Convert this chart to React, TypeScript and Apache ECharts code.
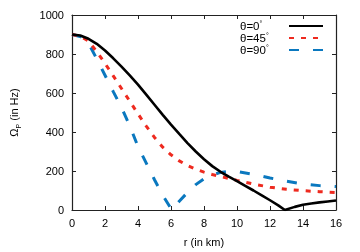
import React, { useEffect, useRef } from "react";
import * as echarts from "echarts";

const seriesNames = ["θ=0°", "θ=45°", "θ=90°"];
const xTicks = [0, 2, 4, 6, 8, 10, 12, 14, 16];
const yTicks = [0, 200, 400, 600, 800, 1000];

const rBlack = [0, 0.5, 1, 1.5, 2, 2.5, 3, 3.5, 4, 4.5, 5, 5.5, 6, 6.5, 7, 7.5, 8, 8.5, 9, 9.5, 10, 10.5, 11, 11.5, 12, 12.5, 12.9, 13.5, 14, 14.5, 15, 15.5, 16];
const vBlack = [900, 895, 878, 852, 818, 778, 735, 690, 643, 592, 540, 488, 438, 390, 343, 300, 260, 225, 196, 171, 148, 124, 100, 75, 50, 24, 0, 16, 27, 33, 39, 44, 49];

const rRed = [0, 0.5, 1, 1.5, 2, 2.5, 3, 3.5, 4, 4.5, 5, 5.5, 6, 6.5, 7, 7.5, 8, 8.5, 9, 10, 11, 12, 13, 14, 15, 16];
const vRed = [900, 892, 866, 812, 752, 688, 623, 558, 493, 430, 372, 322, 283, 252, 228, 209, 194, 182, 172, 152, 133, 117, 106, 99, 94, 90];

const rBlue = [0, 0.5, 1, 1.5, 2, 2.5, 3, 3.5, 4, 4.5, 5, 5.5, 6.05, 6.5, 7, 7.5, 8, 8.5, 9, 9.5, 10, 11, 12, 13, 14, 15, 16];
const vBlue = [900, 890, 855, 775, 691, 607, 525, 432, 325, 240, 155, 75, 0, 45, 90, 130, 160, 180, 193, 198, 197, 183, 164, 148, 133, 125, 120];

const colors = ["#000000", "#ee2a1f", "#0a78bf"];
const dashes: any[] = ["solid", [5, 7], [10, 14]];
const widths = [2.6, 3, 3];

export default function App() {
  const ref = useRef<HTMLDivElement>(null);
  useEffect(() => {
    if (!ref.current) return;
    const chart = echarts.init(ref.current, null, { renderer: "svg" });
    const pairs = [
      rBlack.map((r, i) => [r, vBlack[i]]),
      rRed.map((r, i) => [r, vRed[i]]),
      rBlue.map((r, i) => [r, vBlue[i]]),
    ];
    const font = "Liberation Sans, Arial, sans-serif";
    const axisCommon = {
      axisLine: { show: true, onZero: false, lineStyle: { color: "#222", width: 1.2 } },
      axisTick: { show: true, inside: true, length: 4, lineStyle: { color: "#222", width: 1 } },
      splitLine: { show: false },
    };
    chart.setOption({
      animation: false,
      textStyle: { fontFamily: font },
      grid: { left: 68, right: 24, top: 15, bottom: 41, containLabel: false },
      legend: {
        orient: "vertical",
        right: 31,
        top: 15,
        align: "right",
        itemWidth: 34,
        itemHeight: 8,
        itemGap: 0,
        data: seriesNames,
        itemStyle: { opacity: 0 },
        formatter: (name: string) => `{a|${name.replace("°", "")}}{s|°}`,
        textStyle: {
          width: 44,
          align: "left",
          fontFamily: font,
          rich: {
            a: { fontSize: 11.5, color: "#000", fontFamily: font, lineHeight: 12, align: "left" },
            s: { fontSize: 7, color: "#000", fontFamily: font, verticalAlign: "top", lineHeight: 12, align: "left" },
          },
        },
      },
      xAxis: [
        {
          type: "value",
          min: xTicks[0],
          max: xTicks[xTicks.length - 1],
          interval: 2,
          position: "bottom",
          ...axisCommon,
          axisLabel: { color: "#000", fontSize: 11, margin: 7, fontFamily: font, formatter: (v: number) => String(v) },
          name: "r (in km)",
          nameLocation: "middle",
          nameGap: 26,
          nameTextStyle: { color: "#000", fontSize: 11, fontFamily: font },
        },
        {
          type: "value",
          min: xTicks[0],
          max: xTicks[xTicks.length - 1],
          interval: 2,
          position: "top",
          ...axisCommon,
          axisLabel: { show: false },
        },
      ],
      yAxis: [
        {
          type: "value",
          min: yTicks[0],
          max: yTicks[yTicks.length - 1],
          interval: 200,
          position: "left",
          ...axisCommon,
          axisLabel: { color: "#000", fontSize: 11, margin: 8, fontFamily: font, formatter: (v: number) => String(v) },
          name: "{o|Ω}{p|P}{n| (in Hz)}",
          nameLocation: "middle",
          nameGap: 53,
          nameRotate: 90,
          nameTextStyle: {
            color: "#000",
            fontSize: 11,
            fontFamily: font,
            rich: {
              o: { fontSize: 11, color: "#000", fontFamily: font },
              p: { fontSize: 7, color: "#000", fontFamily: font, verticalAlign: "bottom", padding: [0, 0, -3, 0] },
              n: { fontSize: 11, color: "#000", fontFamily: font },
            },
          },
        },
        {
          type: "value",
          min: yTicks[0],
          max: yTicks[yTicks.length - 1],
          interval: 200,
          position: "right",
          ...axisCommon,
          axisLabel: { show: false },
        },
      ],
      series: seriesNames.map((name, i) => ({
        name,
        type: "line",
        data: pairs[i],
        showSymbol: false,
        symbol: "none",
        smooth: false,
        clip: true,
        lineStyle: { color: colors[i], width: widths[i], type: dashes[i], cap: "butt" },
        itemStyle: { color: colors[i] },
        z: 3 - i,
      })),
    });
    return () => chart.dispose();
  }, []);
  return <div ref={ref} style={{ position: "fixed", left: 0, top: 0, width: 360, height: 252 }} />;
}
